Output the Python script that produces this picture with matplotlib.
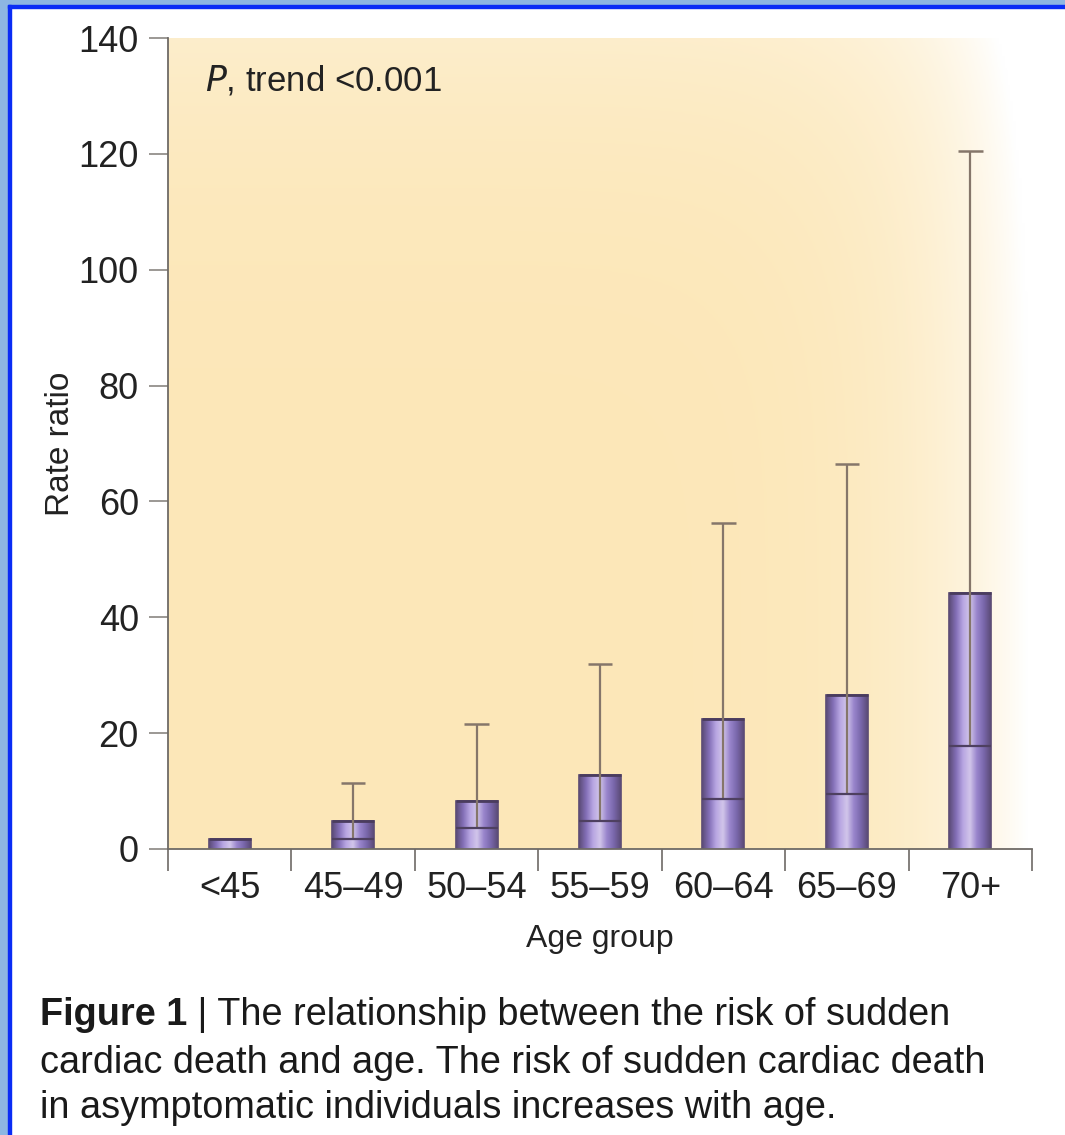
import numpy as np
import matplotlib
matplotlib.use("Agg")
from matplotlib import pyplot as plt
from matplotlib.colors import LinearSegmentedColormap

# values
groups = ["<45", "45\u201349", "50\u201354", "55\u201359", "60\u201364", "65\u201369", "70+"]
rate_ratio = [1.7, 4.8, 8.3, 12.7, 22.5, 26.5, 44.2]
ci_low = [None, 1.8, 3.6, 4.8, 8.6, 9.5, 17.7]
ci_high = [None, 11.4, 21.5, 32.0, 56.3, 66.4, 120.5]
yticks = [0, 20, 40, 60, 80, 100, 120, 140]

plt.rcParams["font.family"] = ["Liberation Sans", "DejaVu Sans"]

fig = plt.figure(figsize=(10.65, 11.35), dpi=100)
ax = fig.add_axes([168 / 1065, 1 - 849 / 1135, (1032 - 168) / 1065, (849 - 38) / 1135])

# peach background, fading to white near the right edge and a bit at the top
nx, ny = 300, 200
gx = np.linspace(0, 1, nx)[None, :]
gy = np.linspace(0, 1, ny)[:, None]
fade = np.clip(0.08 + 0.95 * gx ** 9 + 0.25 * gy ** 6, 0, 1)
base = np.array([252, 229, 178]) / 255.0
img = base[None, None, :] * (1 - fade[..., None]) + fade[..., None]
ax.imshow(img, extent=[0, 1, 0, 1], transform=ax.transAxes, aspect="auto",
          origin="lower", zorder=0)

x = np.arange(len(groups))
width = 0.34
bars = ax.bar(x, rate_ratio, width=width, color="#8a76bd", edgecolor="#5a4a72",
              linewidth=1.2, zorder=2)

bar_cmap = LinearSegmentedColormap.from_list(
    "barshade", ["#5c4c78", "#8470b8", "#b8a6e2", "#d2c6ea", "#9985cc", "#7a68ac", "#5c4c78"])
shade = np.linspace(0, 1, 64)[None, :]
for b in bars:
    x0, y0 = b.get_x(), b.get_y()
    im = ax.imshow(shade, cmap=bar_cmap, extent=[x0, x0 + b.get_width(), y0, y0 + b.get_height()],
                   aspect="auto", zorder=2.5)
    im.set_clip_path(b)
    ax.hlines(y0 + b.get_height(), x0, x0 + b.get_width(), color="#4a3c5e", lw=2, zorder=3)

err_c = "#85766a"
for i in range(len(groups)):
    if ci_low[i] is None:
        continue
    ax.vlines(x[i], ci_low[i], ci_high[i], color=err_c, lw=1.6, zorder=4)
    ax.hlines(ci_high[i], x[i] - 0.1, x[i] + 0.1, color=err_c, lw=1.8, zorder=4)
    ax.hlines(ci_low[i], x[i] - width / 2, x[i] + width / 2, color="#4e4060", lw=1.6, zorder=4)

ax.set_xlim(-0.5, len(groups) - 0.5)
ax.set_ylim(0, 140)
ax.set_yticks(yticks)
ax.set_xticks(x)
ax.set_xticklabels(groups)
ax.set_xticks(np.arange(len(groups) + 1) - 0.5, minor=True)

for side in ["top", "right"]:
    ax.spines[side].set_visible(False)
for side in ["left", "bottom"]:
    ax.spines[side].set_color("#6e6a66")
    ax.spines[side].set_linewidth(1.3)

ax.tick_params(axis="y", length=14, width=1.2, color="#8a8682", pad=7,
               labelsize=26, labelcolor="#222222")
ax.tick_params(axis="x", which="major", length=0, pad=16, labelsize=26, labelcolor="#222222")
ax.tick_params(axis="x", which="minor", length=16, width=1.2, color="#6e6a66")

ax.set_ylabel("Rate ratio", fontsize=24, color="#222222", labelpad=2)
ax.set_xlabel("Age group", fontsize=23, color="#222222", labelpad=13)

ax.text(0.043, 0.968, r"$\it{P}$, trend <0.001", transform=ax.transAxes,
        fontsize=25, color="#222222", va="top", ha="left")

# caption
cap_font = ["Liberation Sans", "DejaVu Sans"]
cap_size = 27.3
t1 = fig.text(40 / 1065, 1 - 1015 / 1135, "Figure 1", fontsize=cap_size, fontweight="bold",
              family=cap_font, color="#1a1a1a", va="center")
fig.canvas.draw()
ax.annotate(" | The relationship between the risk of sudden", xy=(1, 0.5), xycoords=t1,
            va="center", ha="left", fontsize=cap_size, family=cap_font, color="#1a1a1a",
            annotation_clip=False)
fig.text(40 / 1065, 1 - 1063 / 1135, "cardiac death and age. The risk of sudden cardiac death",
         fontsize=cap_size, family=cap_font, color="#1a1a1a", va="center")
fig.text(40 / 1065, 1 - 1108 / 1135, "in asymptomatic individuals increases with age.",
         fontsize=cap_size, family=cap_font, color="#1a1a1a", va="center")

# blue frame
fig.patches.append(plt.Rectangle((0, 0), 8 / 1065, 1, transform=fig.transFigure,
                                 color="#8db6e2", zorder=0))
fig.patches.append(plt.Rectangle((0, 1 - 5 / 1135), 1, 5 / 1135, transform=fig.transFigure,
                                 color="#8db6e2", zorder=0))
fig.patches.append(plt.Rectangle((8 / 1065, 0), 3 / 1065, 1 - 5 / 1135, transform=fig.transFigure,
                                 color="#0a2cf5", zorder=1))
fig.patches.append(plt.Rectangle((8 / 1065, 1 - 8 / 1135), 1, 3 / 1135, transform=fig.transFigure,
                                 color="#0a2cf5", zorder=1))

fig.savefig("out.png", dpi=100)
